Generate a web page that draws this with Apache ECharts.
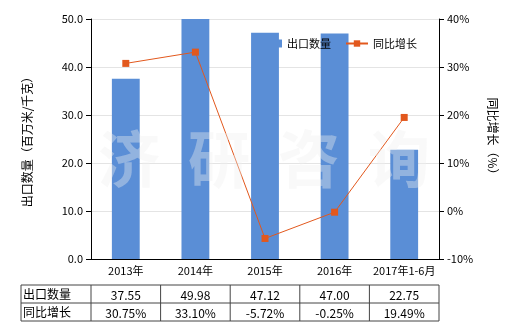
<!DOCTYPE html>
<html><head><meta charset="utf-8">
<script src="https://cdn.jsdelivr.net/npm/echarts@6/dist/echarts.min.js"></script>
<style>html,body{margin:0;padding:0;background:#fff}#c{width:520px;height:330px}</style>
</head><body><div id="c"></div>
<script>
var categories = ['2013年','2014年','2015年','2016年','2017年1-6月'];
var exportQty = [37.55, 49.98, 47.12, 47.00, 22.75];
var yoyGrowth = [30.75, 33.10, -5.72, -0.25, 19.49];
var qtyLabels = ['37.55','49.98','47.12','47.00','22.75'];
var yoyLabels = ['30.75%','33.10%','-5.72%','-0.25%','19.49%'];
var rowNames = ['出口数量','同比增长'];

var font = '"Microsoft YaHei","Noto Sans CJK SC",sans-serif';
var chart = echarts.init(document.getElementById('c'), null, {renderer:'canvas'});

var gridLeft = 91, gridRight = 439, tableLeft = 21, rowTop = 285, rowH = 18;
var colW = (gridRight - gridLeft) / categories.length;
var g = [];
// watermark
var wm = ['济','研','咨','询'];
wm.forEach(function(ch, i){
  g.push({type:'text', left: 98 + i*90, top: 128, z: 100, silent:true,
    style:{text: ch, font:'bold 62px ' + font, fill:'rgba(240,240,240,0.38)'}});
});
// table lines
var tableRight = gridRight;
for (var r = 0; r <= 2; r++) {
  g.push({type:'line', shape:{x1:tableLeft, y1:rowTop + r*rowH, x2:tableRight, y2:rowTop + r*rowH}, style:{stroke:'#444', lineWidth:1}});
}
g.push({type:'line', shape:{x1:tableLeft, y1:rowTop, x2:tableLeft, y2:rowTop+2*rowH}, style:{stroke:'#444', lineWidth:1}});
for (var c = 0; c <= categories.length; c++) {
  var x = gridLeft + c*colW;
  g.push({type:'line', shape:{x1:x, y1:rowTop, x2:x, y2:rowTop+2*rowH}, style:{stroke:'#444', lineWidth:1}});
}
rowNames.forEach(function(n, r){
  g.push({type:'text', x: tableLeft + 2, y: rowTop + r*rowH + rowH/2, style:{text:n, font:'12px '+font, fill:'#000', textVerticalAlign:'middle', verticalAlign:'middle'}});
});
[qtyLabels, yoyLabels].forEach(function(arr, r){
  arr.forEach(function(t, i){
    g.push({type:'text', x: gridLeft + (i+0.5)*colW, y: rowTop + r*rowH + rowH/2 + 1,
      style:{text:t, font:'12px '+font, fill:'#000', align:'center', textAlign:'center', verticalAlign:'middle', textVerticalAlign:'middle'}});
  });
});

chart.setOption({
  animation:false,
  textStyle:{fontFamily:font},
  grid:{left:gridLeft, right:520-gridRight, top:19, bottom:71},
  legend:{left:255, top:33, itemGap:14, itemWidth:22, itemHeight:8,
    data:[{name:'出口数量', icon:'rect'}, {name:'同比增长'}],
    textStyle:{fontSize:11, color:'#000', fontFamily:font}},
  xAxis:{type:'category', data:categories,
    axisLine:{lineStyle:{color:'#000'}}, axisTick:{alignWithLabel:true, lineStyle:{color:'#000'}},
    axisLabel:{color:'#000', fontSize:11, margin:6, interval:0}},
  yAxis:[
    {type:'value', min:0, max:50, interval:10, name:'出口数量（百万米/千克）', nameLocation:'middle', nameGap:58, nameRotate:90,
      nameTextStyle:{fontSize:12, color:'#000'},
      axisLine:{show:true, lineStyle:{color:'#000'}}, axisTick:{show:true, lineStyle:{color:'#000'}},
      axisLabel:{color:'#000', fontSize:11, formatter:function(v){return v.toFixed(1);}},
      splitLine:{lineStyle:{color:'#e4e4e4'}}},
    {type:'value', min:-10, max:40, interval:10, name:'同比增长（%）', nameLocation:'middle', nameGap:48, nameRotate:-90,
      nameTextStyle:{fontSize:12, color:'#000'},
      axisLine:{show:true, lineStyle:{color:'#000'}}, axisTick:{show:true, lineStyle:{color:'#000'}},
      axisLabel:{color:'#000', fontSize:11, formatter:'{value}%'},
      splitLine:{show:false}}
  ],
  series:[
    {name:'出口数量', type:'bar', data:exportQty, barWidth:'40%', itemStyle:{color:'#5A8ED6'}},
    {name:'同比增长', type:'line', yAxisIndex:1, data:yoyGrowth, symbol:'rect', symbolSize:7,
      lineStyle:{color:'#E2581D', width:1}, itemStyle:{color:'#E2581D'}}
  ],
  graphic:g
});
</script></body></html>
